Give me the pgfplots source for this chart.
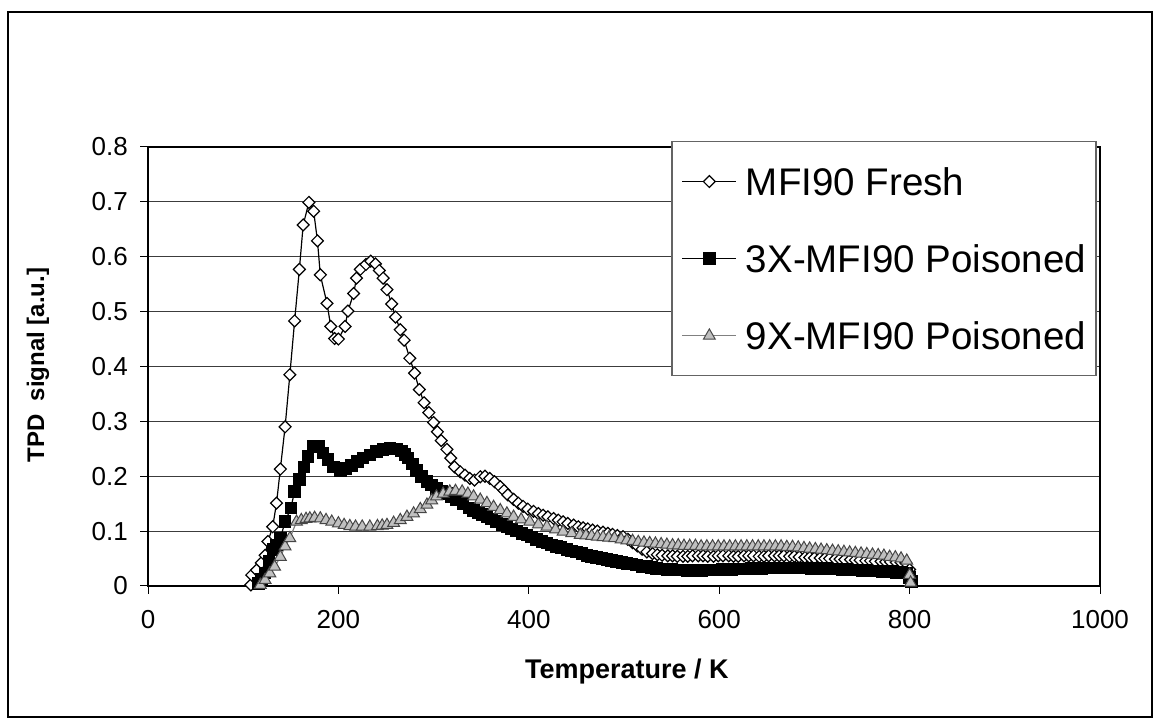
\documentclass[border=0pt]{standalone}
\usepackage{fontspec}
\setmainfont{Liberation Sans}
\usepackage{pgfplots}
\pgfplotsset{compat=1.18}
\definecolor{gridc}{RGB}{60,60,60}
\definecolor{triFill}{RGB}{192,192,192}
\definecolor{triDraw}{RGB}{70,70,70}
\definecolor{lineGray}{RGB}{128,128,128}
\definecolor{legBorder}{RGB}{100,100,100}
\begin{document}
\begin{tikzpicture}[x=1bp,y=1bp]
\path[use as bounding box] (0,0) rectangle (1155,720);
\draw[line width=2bp] (8,3) rectangle (1152,708);
\begin{axis}[
  at={(148bp,134bp)}, anchor=south west,
  scale only axis, width=952bp, height=439bp,
  xmin=0, xmax=1000, ymin=0, ymax=0.8,
  xtick={0,200,400,600,800,1000},
  ytick={0,0.1,0.2,0.3,0.4,0.5,0.6,0.7,0.8},
  xtick pos=bottom, ytick pos=left,
  tick align=outside, major tick length=8bp,
  tick style={black, line width=1bp},
  axis line style={black, line width=1.5bp},
  ymajorgrids, major grid style={gridc, line width=1bp},
  /pgf/number format/assume math mode=true,
  /pgf/number format/1000 sep={},
  yticklabel style={/pgf/number format/fixed},
  tick label style={font=\fontsize{26bp}{31bp}\selectfont},
  xticklabel style={anchor=north, inner sep=0pt, text height=18.6bp, text depth=0pt, yshift=-16bp},
  yticklabel style={anchor=east, inner sep=0pt, xshift=-12bp},
  xlabel={Temperature / K},
  ylabel={TPD\ \ signal [a.u.]},
  xlabel style={font=\bfseries\fontsize{27bp}{32bp}\selectfont, at={(axis description cs:0.503,-0.2118)}, anchor=base, inner sep=0pt},
  ylabel style={font=\bfseries\fontsize{24bp}{29bp}\selectfont, at={(axis description cs:-0.109,0.503)}, anchor=base, inner sep=0pt},
  clip=false,
  legend cell align=left,
  legend image code/.code={%
    \draw[mark repeat=2,mark phase=2,#1] plot coordinates {(0bp,0bp) (27bp,0bp) (54bp,0bp)};},
  legend style={at={(axis description cs:0.9968,1.0137)}, anchor=north east,
    draw=legBorder, line width=1.5bp, fill=white,
    inner xsep=10bp, inner ysep=26bp, row sep=49.5bp,
    /tikz/every odd column/.append style={column sep=9bp},
    font=\fontsize{38.5bp}{46bp}\selectfont,
    nodes={inner sep=0pt, text height=27.6bp, text depth=0pt}},
]
\addplot[black, line width=1.2bp, mark=square*, mark size=4.2bp,
  mark options={rotate=45, fill=white, draw=black, line width=1.2bp, solid}]
coordinates {
(108,0.002)(109,0.020)(114,0.029)(119,0.042)(123,0.056)(126,0.081)(131,0.108)(135,0.151)
(139,0.213)(144,0.290)(149,0.385)(154,0.483)(159,0.577)(163,0.658)(169,0.699)(174,0.683)
(178,0.629)(181,0.567)(188,0.515)(192,0.473)(196,0.451)(200,0.450)(207,0.473)(210,0.501)
(216,0.533)(219,0.561)(223,0.577)(229,0.586)(234,0.592)(239,0.587)(243,0.575)(247,0.561)
(251,0.540)(256,0.514)(260,0.490)(265,0.467)(269,0.448)(275,0.415)(280,0.388)(285,0.358)
(290,0.334)(295,0.316)(300,0.298)(304,0.281)(308,0.265)(314,0.249)(318,0.233)(322,0.217)
(328,0.208)(333,0.202)(338,0.196)(343,0.193)(349,0.199)(354,0.200)(359,0.196)(364,0.190)
(370,0.181)(374,0.174)(378,0.166)(384,0.158)(389,0.151)(394,0.145)(399,0.140)(405,0.136)
(410,0.132)(415,0.129)(420,0.126)(426,0.123)(431,0.120)(436,0.117)(441,0.114)(447,0.111)
(452,0.108)(457,0.106)(462,0.104)(467,0.102)(472,0.100)(478,0.098)(483,0.096)(488,0.094)
(493,0.092)(499,0.090)(504,0.085)(509,0.079)(514,0.073)(519,0.067)(524,0.062)(530,0.059)
(535,0.057)(540,0.056)(546,0.055)(551,0.055)(556,0.054)(562,0.054)(567,0.054)(572,0.055)
(578,0.055)(583,0.055)(588,0.054)(594,0.054)(599,0.055)(604,0.055)(610,0.055)(615,0.054)
(620,0.054)(626,0.055)(631,0.055)(636,0.055)(642,0.054)(647,0.054)(652,0.055)(658,0.055)
(663,0.055)(668,0.055)(674,0.054)(679,0.054)(684,0.053)(690,0.052)(695,0.052)(700,0.051)
(706,0.051)(711,0.050)(716,0.050)(722,0.049)(727,0.049)(732,0.048)(738,0.048)(743,0.047)
(748,0.047)(754,0.046)(759,0.046)(764,0.045)(770,0.045)(775,0.044)(780,0.044)(786,0.043)
(791,0.043)(796,0.042)(800,0.030)(801,0.015)
};
\addlegendentry{MFI90 Fresh}
\addplot[black, line width=1.2bp, mark=square*, mark size=5.8bp,
  mark options={fill=black, draw=black, line width=1bp, solid}]
coordinates {
(116,0.005)(119,0.012)(123,0.024)(127,0.045)(132,0.066)(135,0.075)(139,0.087)(144,0.117)
(150,0.142)(154,0.172)(159,0.194)(164,0.217)(168,0.236)(174,0.254)(179,0.254)(184,0.242)
(189,0.230)(195,0.217)(202,0.211)(208,0.214)(214,0.220)(220,0.227)(226,0.233)(233,0.239)
(240,0.245)(247,0.249)(254,0.251)(261,0.250)(266,0.246)(270,0.240)(273,0.233)(278,0.222)
(282,0.211)(287,0.200)(293,0.190)(298,0.184)(303,0.178)(308,0.173)(314,0.169)(319,0.163)
(324,0.157)(331,0.150)(338,0.142)(342,0.138)(347,0.134)(351,0.130)(356,0.126)(361,0.122)
(366,0.117)(372,0.112)(377,0.108)(382,0.104)(387,0.100)(393,0.096)(398,0.093)(403,0.089)
(408,0.085)(414,0.081)(419,0.078)(424,0.075)(429,0.072)(434,0.070)(440,0.067)(445,0.064)
(450,0.062)(456,0.059)(461,0.056)(466,0.054)(471,0.052)(477,0.050)(482,0.048)(487,0.046)
(492,0.045)(498,0.043)(503,0.041)(508,0.040)(513,0.038)(519,0.036)(524,0.035)(529,0.034)
(534,0.032)(540,0.031)(545,0.030)(550,0.030)(555,0.029)(561,0.029)(566,0.028)(571,0.028)
(576,0.028)(582,0.028)(587,0.029)(592,0.029)(597,0.029)(603,0.030)(608,0.030)(613,0.030)
(618,0.031)(624,0.031)(629,0.031)(634,0.032)(639,0.032)(645,0.032)(650,0.033)(655,0.033)
(660,0.033)(666,0.033)(671,0.033)(676,0.033)(681,0.033)(687,0.033)(692,0.033)(697,0.032)
(702,0.032)(708,0.032)(713,0.032)(718,0.031)(723,0.031)(729,0.030)(734,0.030)(739,0.029)
(744,0.029)(750,0.028)(755,0.028)(760,0.027)(765,0.027)(771,0.026)(776,0.026)(781,0.026)
(786,0.025)(792,0.025)(797,0.024)(800,0.015)(802,0.008)
};
\addlegendentry{3X-MFI90 Poisoned}
\addplot[lineGray, line width=1.2bp, mark=triangle*, mark size=6.8bp,
  mark options={fill=triFill, draw=triDraw, line width=1bp, solid}]
coordinates {
(118,0.002)(123,0.011)(128,0.023)(133,0.035)(139,0.053)(144,0.072)(149,0.087)(156,0.117)
(161,0.120)(166,0.122)(170,0.123)(175,0.124)(181,0.123)(187,0.120)(193,0.117)(200,0.114)
(206,0.111)(212,0.109)(218,0.108)(225,0.108)(233,0.108)(241,0.109)(246,0.110)(251,0.111)
(258,0.115)(265,0.120)(272,0.126)(279,0.132)(286,0.140)(293,0.148)(298,0.156)(303,0.163)
(310,0.168)(317,0.172)(323,0.173)(330,0.172)(336,0.168)(342,0.163)(349,0.157)(356,0.151)
(363,0.144)(370,0.138)(377,0.132)(384,0.126)(392,0.121)(401,0.117)(410,0.112)(419,0.108)
(428,0.103)(436,0.099)(445,0.096)(454,0.093)(460,0.092)(466,0.091)(472,0.090)(478,0.089)
(484,0.088)(490,0.087)(497,0.085)(503,0.083)(509,0.082)(515,0.080)(521,0.079)(527,0.078)
(533,0.077)(539,0.076)(545,0.075)(551,0.074)(557,0.074)(563,0.073)(569,0.073)(575,0.073)
(581,0.072)(587,0.072)(593,0.072)(599,0.072)(605,0.072)(611,0.072)(617,0.072)(623,0.072)
(629,0.072)(635,0.072)(641,0.072)(647,0.072)(653,0.072)(659,0.072)(665,0.072)(671,0.071)
(677,0.071)(683,0.070)(689,0.069)(695,0.068)(701,0.067)(707,0.066)(713,0.065)(719,0.064)
(725,0.063)(731,0.062)(737,0.061)(743,0.060)(749,0.059)(755,0.058)(761,0.057)(767,0.056)
(773,0.055)(779,0.053)(785,0.052)(791,0.050)(797,0.046)(800,0.020)(801,0.006)
};
\addlegendentry{9X-MFI90 Poisoned}
\end{axis}
\end{tikzpicture}
\end{document}
